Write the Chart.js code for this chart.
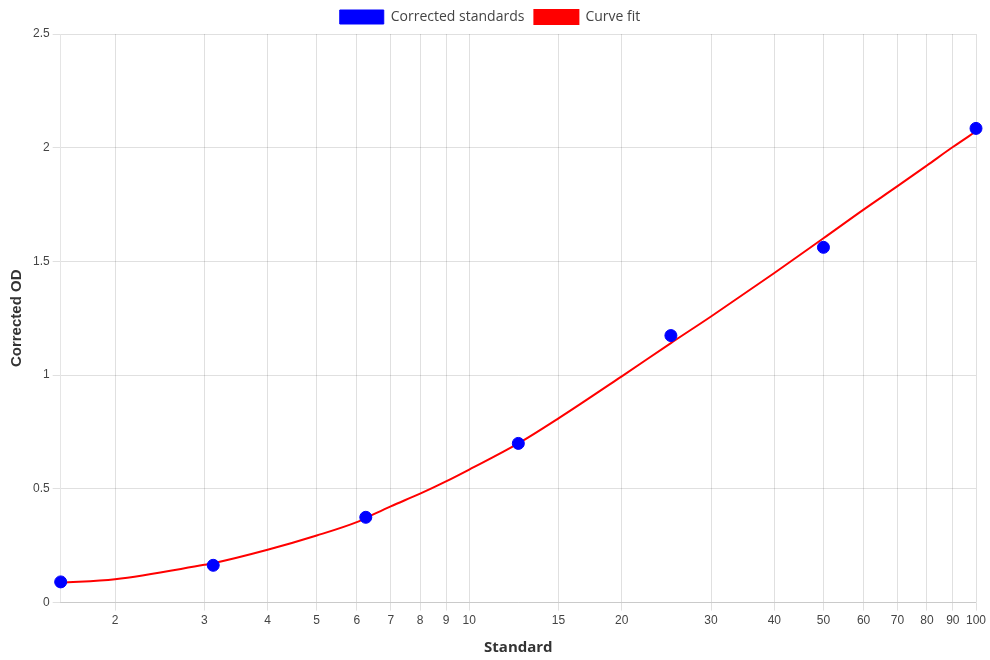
<!DOCTYPE html>
<html>
<head>
<meta charset="utf-8">
<script src="https://cdn.jsdelivr.net/npm/chart.js@4.4.1/dist/chart.umd.min.js"></script>
<style>
  html, body { margin: 0; padding: 0; background: #fff; }
  #wrap { width: 990px; height: 660px; }
</style>
</head>
<body>
<div id="wrap"><canvas id="chartOD" width="990" height="660"></canvas></div>
<script>
// standar terkoreksi (titik biru)
const standardX = [1.5625, 3.125, 6.25, 12.5, 25, 50, 100];
const correctedOD = [0.091, 0.164, 0.375, 0.700, 1.174, 1.562, 2.085];

// kurva fit (garis merah)
const fitX = [1.5625, 2, 3, 3.125, 4, 5, 6, 6.25, 7, 8, 9, 10, 12.5, 15, 20, 25, 30, 40, 50, 60, 70, 80, 90, 100];
const fitY = [0.087, 0.103, 0.166, 0.173, 0.232, 0.295, 0.354, 0.372, 0.423, 0.479, 0.533, 0.585, 0.700, 0.810, 0.995, 1.141, 1.258, 1.449, 1.602, 1.728, 1.831, 1.922, 2.003, 2.072];

// label sumbu
const xTicks = [2, 3, 4, 5, 6, 7, 8, 9, 10, 15, 20, 30, 40, 50, 60, 70, 80, 90, 100];
const yTicks = [0, 0.5, 1, 1.5, 2, 2.5];

const ctx = document.getElementById("chartOD").getContext("2d");

const chart = new Chart(ctx, {
  type: "scatter",
  data: {
    datasets: [{
      label: "Corrected standards",
      data: standardX.map((x, i) => ({ x, y: correctedOD[i] })),
      backgroundColor: "#0000ff",
      borderColor: "#0000ff",
      pointRadius: 6,
      pointHoverRadius: 6,
      clip: false
    }, {
      label: "Curve fit",
      data: fitX.map((x, i) => ({ x, y: fitY[i] })),
      showLine: true,
      borderColor: "#ff0000",
      backgroundColor: "#ff0000",
      borderWidth: 2,
      pointRadius: 0,
      cubicInterpolationMode: "monotone"
    }]
  },
  options: {
    responsive: false,
    animation: false,
    layout: { padding: { left: 4, right: 14, top: 0, bottom: 0 } },
    plugins: {
      legend: {
        position: "top",
        labels: {
          boxWidth: 44,
          boxHeight: 14,
          color: "#444",
          font: { family: "'Open Sans'", size: 14 }
        }
      },
      tooltip: { enabled: false }
    },
    scales: {
      x: {
        type: "logarithmic",
        min: 1.5625,
        max: 100,
        afterBuildTicks: axis => { axis.ticks = xTicks.map(v => ({ value: v })); },
        ticks: {
          autoSkip: false,
          maxRotation: 0,
          color: "#444",
          font: { family: "'Liberation Sans'", size: 12 },
          callback: v => String(v)
        },
        grid: { color: "rgba(0,0,0,0.12)" },
        title: {
          display: true,
          text: "Standard",
          color: "#333",
          padding: { top: 8, bottom: 3 },
          font: { family: "'Open Sans'", size: 15, weight: "bold" }
        }
      },
      y: {
        min: 0,
        max: 2.5,
        afterBuildTicks: axis => { axis.ticks = yTicks.map(v => ({ value: v })); },
        ticks: {
          color: "#444",
          font: { family: "'Liberation Sans'", size: 12 },
          callback: v => String(v)
        },
        grid: { color: "rgba(0,0,0,0.12)" },
        title: {
          display: true,
          text: "Corrected OD",
          color: "#333",
          font: { family: "'Liberation Sans'", size: 15, weight: "bold" }
        }
      }
    }
  }
});
</script>
</body>
</html>
